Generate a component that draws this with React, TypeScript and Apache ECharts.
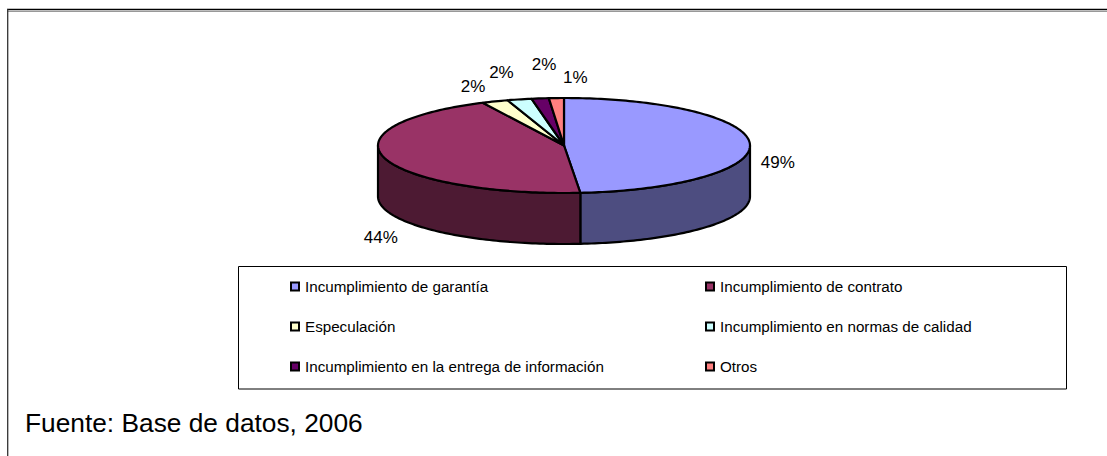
import React, { useEffect, useRef } from "react";
import * as echarts from "echarts";

const categories = [
  "Incumplimiento de garantía",
  "Incumplimiento de contrato",
  "Especulación",
  "Incumplimiento en normas de calidad",
  "Incumplimiento en la entrega de información",
  "Otros",
];
const values = [48.6, 44.2, 2.3, 2.1, 1.5, 1.3];
const topColors = ["#9999FF", "#993366", "#FFFFCC", "#CCFFFF", "#660066", "#FF8080"];
const sideColors = ["#4D4D80", "#4D1A33", "#80805F", "#668080", "#330033", "#804040"];
const labelOffsets = [[28, 19], [-4, 79], [-22, -15], [-18, -27], [4, -34], [19, -21]];
const footnote = "Fuente: Base de datos, 2006";

const CX = 564, CY = 145.5, RX = 186, RY = 47.5, DEPTH = 51;
const total = values.reduce((a, b) => a + b, 0);
const pt = (t: number, dy = 0) => [CX + RX * Math.sin(t), CY - RY * Math.cos(t) + dy];

function arcPts(a: number, b: number, dy = 0) {
  const n = Math.max(2, Math.ceil(Math.abs(b - a) / 0.02));
  const out: number[][] = [];
  for (let i = 0; i <= n; i++) out.push(pt(a + ((b - a) * i) / n, dy));
  return out;
}

const lineStyle = { stroke: "#000", lineWidth: 2.2, lineJoin: "round" };

const makeSeries = (idx: number) => {
  const before = values.slice(0, idx).reduce((a, b) => a + b, 0);
  return {
    type: "custom",
    name: categories[idx],
    coordinateSystem: "none",
    itemStyle: { color: topColors[idx] },
    data: [[values[idx], before]],
    silent: true,
    renderItem: (_p: any, api: any) => {
      const v = api.value(0), s = api.value(1);
      const a = (s / total) * Math.PI * 2;
      const b = ((s + v) / total) * Math.PI * 2;
      const children: any[] = [];
      const lo = Math.max(a, Math.PI / 2), hi = Math.min(b, (Math.PI * 3) / 2);
      if (hi > lo) {
        children.push({
          type: "polygon",
          shape: { points: [...arcPts(lo, hi), ...arcPts(hi, lo, DEPTH)] },
          style: { fill: sideColors[idx], ...lineStyle },
        });
      }
      children.push({
        type: "polygon",
        shape: { points: [[CX, CY], ...arcPts(a, b)] },
        style: { fill: topColors[idx], ...lineStyle },
      });
      const mid = pt((a + b) / 2);
      children.push({
        type: "text",
        style: {
          text: Math.round((v / total) * 100) + "%",
          x: mid[0] + labelOffsets[idx][0],
          y: mid[1] + labelOffsets[idx][1],
          fill: "#000",
          font: '17px "Liberation Sans", Arial, sans-serif',
          align: "center",
          verticalAlign: "middle",
        },
      });
      return { type: "group", children };
    },
  };
};

const legendBase = {
  orient: "vertical",
  icon: "rect",
  itemWidth: 8,
  itemHeight: 8,
  itemGap: 25,
  padding: 0,
  selectedMode: false,
  itemStyle: { borderColor: "#000", borderWidth: 2 },
  textStyle: { fontFamily: '"Liberation Sans", Arial, sans-serif', fontSize: 15.2, color: "#000", padding: [0, 0, 0, 1] },
};

export default function App() {
  const ref = useRef<HTMLDivElement>(null);
  useEffect(() => {
    const chart = echarts.init(ref.current!, undefined, { renderer: "svg" });
    chart.setOption({
      animation: false,
      backgroundColor: "#fff",
      legend: [
        { ...legendBase, left: 290, top: 279, data: categories.filter((_, i) => i % 2 === 0) },
        { ...legendBase, left: 705, top: 279, data: categories.filter((_, i) => i % 2 === 1) },
      ],
      series: categories.map((_, i) => makeSeries(i)),
      graphic: [
        { type: "rect", z: -1, shape: { x: 7, y: 11, width: 1100, height: 1 }, style: { fill: "#999" } },
        { type: "line", z: -1, shape: { x1: 7, y1: 9.5, x2: 1107, y2: 9.5 }, style: { stroke: "#000", lineWidth: 1.5 } },
        { type: "line", z: -1, shape: { x1: 7.7, y1: 9, x2: 7.7, y2: 456 }, style: { stroke: "#333", lineWidth: 1.3 } },
        { type: "rect", z: -1, shape: { x: 238.5, y: 266.5, width: 828, height: 122.5 }, style: { fill: "#fff", stroke: "#000", lineWidth: 1 } },
        { type: "text", left: 25, top: 410, style: { text: footnote, fill: "#000", font: '26.3px "Liberation Sans", Arial, sans-serif' } },
      ],
    });
    return () => chart.dispose();
  }, []);
  return <div ref={ref} style={{ position: "absolute", left: 0, top: 0, width: 1107, height: 456 }} />;
}
